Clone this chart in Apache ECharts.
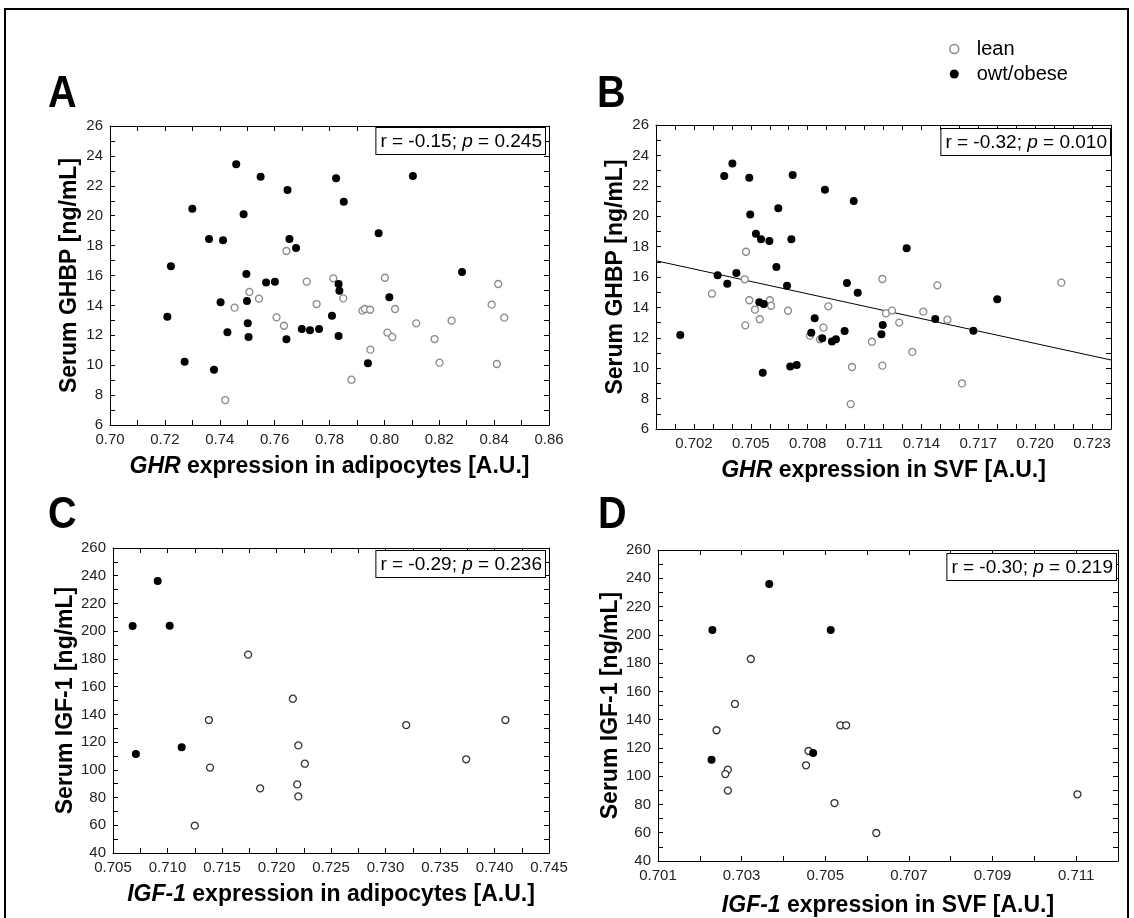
<!DOCTYPE html>
<html>
<head>
<meta charset="utf-8">
<script src="https://cdn.jsdelivr.net/npm/echarts@6/dist/echarts.min.js"></script>
<style>
  html, body { margin: 0; padding: 0; background: #fff; }
  #chart { width: 1134px; height: 918px; }
</style>
</head>
<body>
<div id="chart"></div>
<script>
// ---- data ----
// A: GHR expression in adipocytes vs serum GHBP
var aLean = [[0.7643,17.64],[0.7717,15.59],[0.7814,15.81],[0.7508,14.90],[0.7543,14.45],[0.7454,13.85],
  [0.7753,14.09],[0.7607,13.20],[0.7634,12.64],[0.7420,7.67],[0.7850,14.47],[0.8002,15.85],[0.8415,15.43],
  [0.7920,13.65],[0.7929,13.76],[0.7948,13.71],[0.8039,13.76],[0.8391,14.05],[0.8437,13.18],[0.8116,12.80],
  [0.8245,12.98],[0.8011,12.18],[0.8029,11.89],[0.8183,11.75],[0.7949,11.04],[0.8201,10.17],[0.8410,10.08],
  [0.7880,9.03]];
var aObese = [[0.7460,23.44],[0.7549,22.61],[0.7647,21.72],[0.7824,22.50],[0.7300,20.47],[0.7487,20.09],
  [0.7361,18.44],[0.7412,18.35],[0.7654,18.44],[0.7678,17.84],[0.7222,16.62],[0.7497,16.10],[0.7852,20.94],
  [0.8104,22.66],[0.7979,18.82],[0.8283,16.23],[0.7569,15.54],[0.7601,15.59],[0.7833,15.43],[0.7836,14.98],
  [0.7403,14.21],[0.7499,14.29],[0.7209,13.24],[0.7809,13.31],[0.7502,12.80],[0.7428,12.20],[0.7699,12.42],
  [0.7729,12.33],[0.7762,12.42],[0.7505,11.89],[0.7643,11.73],[0.7833,11.95],[0.7272,10.23],[0.7379,9.70],
  [0.8018,14.54],[0.7940,10.13]];
// B: GHR expression in SVF vs serum GHBP
var bLean = [[0.70475,17.66],[0.70468,15.85],[0.70295,14.90],[0.70492,14.47],[0.70601,14.47],[0.70607,14.11],
  [0.70522,13.85],[0.70696,13.78],[0.70909,14.07],[0.70547,13.22],[0.70471,12.82],[0.70812,12.14],[0.70883,12.67],
  [0.70865,11.90],[0.71034,10.08],[0.71027,7.64],[0.71139,11.74],[0.71194,15.87],[0.71484,15.45],[0.72138,15.63],
  [0.71213,13.61],[0.71245,13.79],[0.71410,13.72],[0.71537,13.19],[0.71283,13.00],[0.71352,11.07],[0.71194,10.17],
  [0.71614,9.00]];
var bObese = [[0.70360,22.64],[0.70403,23.46],[0.70492,22.53],[0.70721,22.71],[0.70891,21.74],[0.71043,21.00],
  [0.70645,20.52],[0.70497,20.12],[0.70527,18.85],[0.70554,18.48],[0.70598,18.37],[0.70714,18.48],[0.70635,16.66],
  [0.70424,16.26],[0.70325,16.11],[0.71322,17.89],[0.70376,15.56],[0.70691,15.43],[0.71007,15.61],[0.71064,14.97],
  [0.70545,14.34],[0.70568,14.22],[0.70837,13.28],[0.70128,12.18],[0.70819,12.34],[0.70877,11.97],[0.70928,11.75],
  [0.70949,11.90],[0.70995,12.45],[0.70708,10.12],[0.70742,10.21],[0.70563,9.70],[0.71800,14.53],[0.71473,13.24],
  [0.71196,12.84],[0.71189,12.23],[0.71674,12.47]];
var bFit = [[0.700,17.07],[0.724,10.54]];
// C: IGF-1 expression in adipocytes vs serum IGF-1
var cLean = [[0.7174,183.1],[0.7215,151.3],[0.7138,135.9],[0.7319,132.3],[0.7410,135.9],[0.7220,117.6],
  [0.7374,107.6],[0.7226,104.4],[0.7139,101.6],[0.7185,86.6],[0.7219,89.5],[0.7220,80.8],[0.7125,59.7]];
var cObese = [[0.7068,203.7],[0.7091,236.2],[0.7102,204.0],[0.7071,111.4],[0.7113,116.2]];
// D: IGF-1 expression in SVF vs serum IGF-1
var dLean = [[0.70322,182.9],[0.70284,151.1],[0.70240,132.5],[0.70536,136.0],[0.70550,136.0],[0.70460,117.8],
  [0.70454,107.7],[0.70267,104.6],[0.70261,101.5],[0.70267,89.8],[0.70522,81.0],[0.71103,87.2],[0.70622,59.8]];
var dObese = [[0.70230,203.4],[0.70366,235.9],[0.70513,203.4],[0.70228,111.7],[0.70471,116.4]];

// tick values
var aXLabels = [0.70,0.72,0.74,0.76,0.78,0.80,0.82,0.84,0.86];
var aXTicks = [0.70,0.71,0.72,0.73,0.74,0.75,0.76,0.77,0.78,0.79,0.80,0.81,0.82,0.83,0.84,0.85,0.86];
var bXLabels = [0.702,0.705,0.708,0.711,0.714,0.717,0.720,0.723];
var bXTicks = [0.701,0.702,0.703,0.704,0.705,0.706,0.707,0.708,0.709,0.710,0.711,0.712,
  0.713,0.714,0.715,0.716,0.717,0.718,0.719,0.720,0.721,0.722,0.723];
var cXLabels = [0.705,0.710,0.715,0.720,0.725,0.730,0.735,0.740,0.745];
var cXTicks = [0.705,0.7075,0.710,0.7125,0.715,0.7175,0.720,0.7225,0.725,0.7275,0.730,0.7325,0.735,0.7375,0.740,0.7425,0.745];
var dXLabels = [0.701,0.703,0.705,0.707,0.709,0.711];
var dXTicks = [0.701,0.702,0.703,0.704,0.705,0.706,0.707,0.708,0.709,0.710,0.711];
var ghbpLabels = [6,8,10,12,14,16,18,20,22,24,26];
var ghbpTicks = [6,7,8,9,10,11,12,13,14,15,16,17,18,19,20,21,22,23,24,25,26];
var igfLabels = [40,60,80,100,120,140,160,180,200,220,240,260];
var igfTicks = [40,50,60,70,80,90,100,110,120,130,140,150,160,170,180,190,200,210,220,230,240,250,260];

var statsText = ['-0.15', '0.245', '-0.32', '0.010', '-0.29', '0.236', '-0.30', '0.219'];

var FONT = 'Liberation Sans, Arial, sans-serif';
var NAME_SIZE = 23;

function xAxisPair(grid, min, max, labels, ticks, digits, nameRich, gap) {
  return [{
    type: 'value', gridIndex: grid, min: min, max: max, position: 'bottom',
    name: nameRich, nameLocation: 'middle', nameGap: gap,
    nameTextStyle: {
      color: '#000', fontSize: NAME_SIZE, fontWeight: 'bold', fontFamily: FONT,
      rich: {
        it: { fontStyle: 'italic', fontWeight: 'bold', fontSize: NAME_SIZE, fontFamily: FONT, color: '#000' },
        b: { fontWeight: 'bold', fontSize: NAME_SIZE, fontFamily: FONT, color: '#000' }
      }
    },
    splitLine: { show: false },
    axisLine: { show: true, onZero: false, lineStyle: { color: '#000', width: 1 } },
    axisTick: { show: true, inside: true, length: 5, customValues: ticks, lineStyle: { color: '#000' } },
    axisLabel: {
      show: true, customValues: labels, margin: 7, color: '#222', fontSize: 15, fontFamily: FONT,
      formatter: function (v) { return v.toFixed(digits); }
    }
  }, {
    type: 'value', gridIndex: grid, min: min, max: max, position: 'top',
    splitLine: { show: false },
    axisLine: { show: true, onZero: false, lineStyle: { color: '#000', width: 1 } },
    axisTick: { show: true, inside: true, length: 5, customValues: ticks, lineStyle: { color: '#000' } },
    axisLabel: { show: false }
  }];
}

function yAxisPair(grid, min, max, labels, ticks, name, gap) {
  return [{
    type: 'value', gridIndex: grid, min: min, max: max, position: 'left',
    name: name, nameLocation: 'middle', nameGap: gap,
    nameTextStyle: { color: '#000', fontSize: NAME_SIZE, fontWeight: 'bold', fontFamily: FONT },
    splitLine: { show: false },
    axisLine: { show: true, onZero: false, lineStyle: { color: '#000', width: 1 } },
    axisTick: { show: true, inside: true, length: 5, customValues: ticks, lineStyle: { color: '#000' } },
    axisLabel: { show: true, customValues: labels, margin: 7, color: '#222', fontSize: 15, fontFamily: FONT }
  }, {
    type: 'value', gridIndex: grid, min: min, max: max, position: 'right',
    splitLine: { show: false },
    axisLine: { show: true, onZero: false, lineStyle: { color: '#000', width: 1 } },
    axisTick: { show: true, inside: true, length: 5, customValues: ticks, lineStyle: { color: '#000' } },
    axisLabel: { show: false }
  }];
}

function scatter(name, grid, data, open, openColor) {
  return {
    name: name, type: 'scatter', xAxisIndex: grid * 2, yAxisIndex: grid * 2, data: data,
    symbol: 'circle', symbolSize: open ? 7 : 8, silent: true,
    itemStyle: open
      ? { color: '#fff', borderColor: openColor, borderWidth: 1.3, opacity: 1 }
      : { color: '#000', borderColor: '#000', borderWidth: 0, opacity: 1 }
  };
}

function statBox(rightPx, topPx, r, p) {
  return {
    type: 'text', right: rightPx, top: topPx, z: 100,
    style: {
      text: '{n|r = ' + r + '; }{i|p}{n| = ' + p + '}',
      rich: {
        n: { fontSize: 19, fontFamily: FONT, fill: '#000' },
        i: { fontSize: 19, fontFamily: FONT, fontStyle: 'italic', fill: '#000' }
      },
      backgroundColor: '#fff', borderColor: '#000', borderWidth: 1, padding: [4, 3, 3, 4]
    }
  };
}

function letter(x, y, t) {
  return {
    type: 'text', left: x, top: y, z: 100, scaleX: 0.88,
    style: { text: t, fontSize: 45, fontWeight: 'bold', fontFamily: 'Liberation Sans Narrow, Arial Narrow, ' + FONT, fill: '#000' }
  };
}

var chart = echarts.init(document.getElementById('chart'));

var option = {
  backgroundColor: '#fff',
  animation: false,
  legend: {
    orient: 'vertical', left: 944, top: 34, itemWidth: 9, itemHeight: 9, itemGap: 5,
    selectedMode: false,
    textStyle: { fontSize: 20, fontFamily: FONT, color: '#000', padding: [0, 0, 0, 13] },
    data: [
      { name: 'lean', icon: 'circle', itemStyle: { color: '#fff', borderColor: '#8a8a8a', borderWidth: 1.5, opacity: 1 } },
      { name: 'owt/obese', icon: 'circle', itemStyle: { color: '#000', borderWidth: 0, opacity: 1 } }
    ]
  },
  grid: [
    { left: 110, top: 126, width: 439, height: 299 },
    { left: 656, top: 125, width: 455, height: 304 },
    { left: 113, top: 548, width: 436, height: 305 },
    { left: 658, top: 550, width: 460, height: 311 }
  ],
  xAxis: [].concat(
    xAxisPair(0, 0.70, 0.86, aXLabels, aXTicks, 2, '{it|GHR}{b| expression in adipocytes [A.U.]}', 30),
    xAxisPair(1, 0.700, 0.724, bXLabels, bXTicks, 3, '{it|GHR}{b| expression in SVF [A.U.]}', 30),
    xAxisPair(2, 0.705, 0.745, cXLabels, cXTicks, 3, '{it|IGF-1}{b| expression in adipocytes [A.U.]}', 30),
    xAxisPair(3, 0.701, 0.712, dXLabels, dXTicks, 3, '{it|IGF-1}{b| expression in SVF [A.U.]}', 33)
  ),
  yAxis: [].concat(
    yAxisPair(0, 6, 26, ghbpLabels, ghbpTicks, 'Serum GHBP [ng/mL]', 29),
    yAxisPair(1, 6, 26, ghbpLabels, ghbpTicks, 'Serum GHBP [ng/mL]', 29),
    yAxisPair(2, 40, 260, igfLabels, igfTicks, 'Serum IGF-1 [ng/mL]', 30),
    yAxisPair(3, 40, 260, igfLabels, igfTicks, 'Serum IGF-1 [ng/mL]', 30)
  ),
  series: [
    scatter('lean', 0, aLean, true, '#8a8a8a'),
    scatter('owt/obese', 0, aObese, false),
    {
      type: 'line', xAxisIndex: 2, yAxisIndex: 2, data: bFit, symbol: 'none', silent: true,
      lineStyle: { color: '#000', width: 1 }, z: 1
    },
    scatter('lean', 1, bLean, true, '#8a8a8a'),
    scatter('owt/obese', 1, bObese, false),
    scatter('lean', 2, cLean, true, '#333'),
    scatter('owt/obese', 2, cObese, false),
    scatter('lean', 3, dLean, true, '#333'),
    scatter('owt/obese', 3, dObese, false)
  ],
  graphic: [
    { type: 'rect', shape: { x: 5, y: 9, width: 1123, height: 930 }, style: { fill: 'none', stroke: '#000', lineWidth: 2 }, silent: true },
    letter(48, 72, 'A'),
    letter(597, 72, 'B'),
    letter(48, 493, 'C'),
    letter(598, 493, 'D'),
    statBox(1134 - 546, 127, statsText[0], statsText[1]),
    statBox(1134 - 1111, 128, statsText[2], statsText[3]),
    statBox(1134 - 546, 550, statsText[4], statsText[5]),
    statBox(1134 - 1117, 553, statsText[6], statsText[7])
  ]
};

chart.setOption(option);
window.addEventListener('resize', function () {
  chart.resize();
});
</script>
</body>
</html>
